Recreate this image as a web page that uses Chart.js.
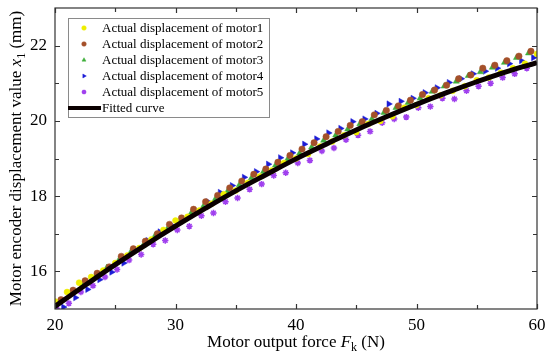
<!DOCTYPE html>
<html>
<head>
<meta charset="utf-8">
<script src="https://cdn.jsdelivr.net/npm/chart.js@4.4.0/dist/chart.umd.min.js"></script>
<style>
    html, body { margin: 0; padding: 0; background: #fff; }
    #wrap { width: 550px; height: 357px; }
</style>
</head>
<body>
<div id="wrap"><canvas id="c" width="550" height="357"></canvas></div>
<script>
    // --- data ---
    var xTicks = [20, 30, 40, 50, 60];
    var xMinor = [25, 35, 45, 55];
    var yTicks = [16, 18, 20, 22];
    var yMinor = [17, 19, 21];

    var motor1X = [20, 21, 22, 23, 24, 25, 26, 27, 28, 29, 30, 31, 32, 33, 34, 35, 36, 37, 38, 39, 40,
        41, 42, 43, 44, 45, 46, 47, 48, 49, 50, 51, 52, 53, 54, 55, 56, 57, 58, 59, 60];
    var motor1Y = [15.20, 15.45, 15.70, 15.85, 16.02, 16.22, 16.42, 16.62, 16.85, 17.10, 17.35, 17.45, 17.62, 17.80,
        18.05, 18.15, 18.35, 18.52, 18.68, 18.88, 19.00, 19.12, 19.32, 19.45, 19.62, 19.70, 19.92, 20.00, 20.12,
        20.35, 20.42, 20.60, 20.68, 20.80, 20.92, 21.08, 21.15, 21.28, 21.40, 21.52, 21.78];

    var motor2X = [20.5, 21.5, 22.5, 23.5, 24.5, 25.5, 26.5, 27.5, 28.5, 29.5, 30.5, 31.5, 32.5, 33.5, 34.5, 35.5,
        36.5, 37.5, 38.5, 39.5, 40.5, 41.5, 42.5, 43.5, 44.5, 45.5, 46.5, 47.5, 48.5, 49.5, 50.5, 51.5, 52.5, 53.5,
        54.5, 55.5, 56.5, 57.5, 58.5, 59.5];
    var motor2Y = [15.25, 15.50, 15.75, 15.95, 16.12, 16.40, 16.60, 16.80, 17.00, 17.25, 17.42, 17.65, 17.85, 18.02,
        18.22, 18.40, 18.58, 18.72, 18.90, 19.08, 19.25, 19.42, 19.58, 19.72, 19.88, 19.98, 20.16, 20.28, 20.40,
        20.55, 20.70, 20.82, 20.95, 21.12, 21.22, 21.40, 21.48, 21.60, 21.72, 21.85];

    var motor3X = [20.3, 21.3, 22.3, 23.3, 24.3, 25.3, 26.3, 27.3, 28.3, 29.3, 30.3, 31.3, 32.3, 33.3, 34.3, 35.3,
        36.3, 37.3, 38.3, 39.3, 40.3, 41.3, 42.3, 43.3, 44.3, 45.3, 46.3, 47.3, 48.3, 49.3, 50.3, 51.3, 52.3, 53.3,
        54.3, 55.3, 56.3, 57.3, 58.3, 59.3];
    var motor3Y = [15.18, 15.42, 15.66, 15.85, 16.10, 16.30, 16.52, 16.68, 16.95, 17.12, 17.30, 17.55, 17.72, 17.92,
        18.12, 18.30, 18.48, 18.65, 18.82, 18.98, 19.14, 19.30, 19.48, 19.62, 19.78, 19.92, 20.05, 20.22, 20.35,
        20.48, 20.60, 20.78, 20.92, 21.05, 21.20, 21.30, 21.42, 21.55, 21.68, 21.80];

    var motor4X = [20.7, 21.7, 22.7, 23.7, 24.7, 25.7, 26.7, 27.7, 28.7, 29.7, 30.7, 31.7, 32.7, 33.7, 34.7, 35.7,
        36.7, 37.7, 38.7, 39.7, 40.7, 41.7, 42.7, 43.7, 44.7, 45.7, 46.7, 47.7, 48.7, 49.7, 50.7, 51.7, 52.7, 53.7,
        54.7, 55.7, 56.7, 57.7, 58.7, 59.7];
    var motor4Y = [15.05, 15.30, 15.52, 15.78, 15.98, 16.22, 16.55, 16.82, 17.05, 17.22, 17.40, 17.58, 17.85, 18.10,
        18.28, 18.50, 18.65, 18.85, 19.02, 19.15, 19.38, 19.52, 19.68, 19.80, 19.98, 20.05, 20.20, 20.45, 20.52,
        20.60, 20.75, 20.88, 21.02, 21.12, 21.25, 21.32, 21.40, 21.52, 21.60, 21.68];

    var motor5X = [20.15, 21.15, 22.15, 23.15, 24.15, 25.15, 26.15, 27.15, 28.15, 29.15, 30.15, 31.15, 32.15, 33.15,
        34.15, 35.15, 36.15, 37.15, 38.15, 39.15, 40.15, 41.15, 42.15, 43.15, 44.15, 45.15, 46.15, 47.15, 48.15,
        49.15, 50.15, 51.15, 52.15, 53.15, 54.15, 55.15, 56.15, 57.15, 58.15, 59.15];
    var motor5Y = [15.00, 15.15, 15.45, 15.62, 15.85, 16.05, 16.30, 16.45, 16.72, 16.82, 17.10, 17.20, 17.48, 17.55,
        17.85, 17.95, 18.18, 18.32, 18.55, 18.62, 18.88, 18.95, 19.20, 19.28, 19.50, 19.62, 19.72, 19.95, 20.05,
        20.10, 20.35, 20.38, 20.60, 20.58, 20.80, 20.92, 21.00, 21.15, 21.25, 21.40];

    var fitX = [20, 22.5, 25, 27.5, 30, 32.5, 35, 37.5, 40, 42.5, 45, 47.5, 50, 52.5, 55, 57.5, 60];
    var fitY = [15.07, 15.63, 16.18, 16.70, 17.20, 17.68, 18.14, 18.57, 18.99, 19.38, 19.76, 20.11, 20.44, 20.75,
        21.04, 21.31, 21.55];

    var seriesNames = ['Actual displacement of motor1', 'Actual displacement of motor2',
        'Actual displacement of motor3', 'Actual displacement of motor4', 'Actual displacement of motor5',
        'Fitted curve'];

    var SERIF = '"Liberation Serif", "Times New Roman", serif';

    function pts(xs, ys) {
        return xs.map(function (x, i) { return {x: x, y: ys[i]}; });
    }

    function scatterSet(name, xs, ys, color, style, radius, rotation) {
        return {
            type: 'scatter',
            label: name,
            data: pts(xs, ys),
            backgroundColor: color,
            borderColor: color,
            borderWidth: style === 'star' ? 1.5 : 0.5,
            pointStyle: style,
            pointRadius: radius,
            rotation: rotation || 0,
            order: 1
        };
    }

    // draw text made of pieces (italic letter, subscript) centred on x
    function drawPieces(ctx, pieces, cx, y) {
        var total = 0;
        pieces.forEach(function (p) {
            ctx.font = p.font;
            p.w = ctx.measureText(p.t).width;
            total += p.w;
        });
        var x = cx - total / 2;
        ctx.textAlign = 'left';
        ctx.textBaseline = 'alphabetic';
        pieces.forEach(function (p) {
            ctx.font = p.font;
            ctx.fillText(p.t, x, y + (p.dy || 0));
            x += p.w;
        });
    }

    var framePlugin = {
        id: 'frame',
        afterDatasetsDraw: function (chart) {
            var ctx = chart.ctx;
            var a = chart.chartArea;
            var sx = chart.scales.x, sy = chart.scales.y;
            ctx.save();
            ctx.strokeStyle = '#333';
            ctx.lineWidth = 1.2;
            ctx.strokeRect(a.left, a.top, a.right - a.left, a.bottom - a.top);

            // inward tick marks on all four sides
            ctx.beginPath();
            xTicks.concat(xMinor).forEach(function (v) {
                var len = xTicks.indexOf(v) >= 0 ? 5 : 4;
                var px = Math.round(sx.getPixelForValue(v)) + 0.5;
                ctx.moveTo(px, a.bottom); ctx.lineTo(px, a.bottom - len);
                ctx.moveTo(px, a.top); ctx.lineTo(px, a.top + len);
            });
            yTicks.concat(yMinor).forEach(function (v) {
                var len = yTicks.indexOf(v) >= 0 ? 5 : 4;
                var py = Math.round(sy.getPixelForValue(v)) + 0.5;
                ctx.moveTo(a.left, py); ctx.lineTo(a.left + len, py);
                ctx.moveTo(a.right, py); ctx.lineTo(a.right - len, py);
            });
            ctx.stroke();
            ctx.restore();
        },
        afterDraw: function (chart) {
            var ctx = chart.ctx;
            var a = chart.chartArea;
            ctx.save();
            ctx.fillStyle = '#000';

            // x axis title
            drawPieces(ctx, [
                {t: 'Motor output force ', font: '17px ' + SERIF},
                {t: 'F', font: 'italic 17px ' + SERIF},
                {t: 'k', font: '12px ' + SERIF, dy: 4},
                {t: ' (N)', font: '17px ' + SERIF}
            ], (a.left + a.right) / 2, 347);

            // y axis title
            ctx.save();
            ctx.translate(21, (a.top + a.bottom) / 2);
            ctx.rotate(-Math.PI / 2);
            drawPieces(ctx, [
                {t: 'Motor encoder displacement value ', font: '17px ' + SERIF},
                {t: 'x', font: 'italic 17px ' + SERIF},
                {t: '1', font: '12px ' + SERIF, dy: 4},
                {t: ' (mm)', font: '17px ' + SERIF}
            ], 0, 0);
            ctx.restore();

            // legend box inside the plot
            var bx = a.left + 13, by = a.top + 10, bw = 201, bh = 99;
            ctx.fillStyle = '#fff';
            ctx.fillRect(bx, by, bw, bh);
            ctx.strokeStyle = '#8a8a8a';
            ctx.lineWidth = 1;
            ctx.strokeRect(bx + 0.5, by + 0.5, bw, bh);

            ctx.font = '13px ' + SERIF;
            ctx.textAlign = 'left';
            ctx.textBaseline = 'middle';
            chart.data.datasets.forEach(function (ds, i) {
                var ry = by + 10 + i * 16;
                if (ds.type === 'line') {
                    ctx.strokeStyle = ds.borderColor;
                    ctx.lineWidth = 4;
                    ctx.beginPath();
                    ctx.moveTo(bx, ry);
                    ctx.lineTo(bx + 33, ry);
                    ctx.stroke();
                } else {
                    ctx.fillStyle = ds.backgroundColor;
                    ctx.strokeStyle = ds.borderColor;
                    ctx.lineWidth = ds.borderWidth;
                    Chart.helpers.drawPoint(ctx, {
                        pointStyle: ds.pointStyle,
                        radius: 2.3,
                        rotation: ds.rotation,
                        borderWidth: ds.borderWidth
                    }, bx + 16, ry);
                }
                ctx.fillStyle = '#000';
                ctx.fillText(ds.label, bx + 34, ry + 1);
            });
            ctx.restore();
        }
    };

    var datasets = [
        scatterSet(seriesNames[0], motor1X, motor1Y, '#eeee00', 'circle', 3),
        scatterSet(seriesNames[1], motor2X, motor2Y, '#a4502a', 'circle', 3.2),
        scatterSet(seriesNames[2], motor3X, motor3Y, '#3fae3a', 'triangle', 3.6),
        scatterSet(seriesNames[3], motor4X, motor4Y, '#1c1cd6', 'triangle', 3.6, 90),
        scatterSet(seriesNames[4], motor5X, motor5Y, '#a040ee', 'star', 3.2),
        {
            type: 'line',
            label: seriesNames[5],
            data: pts(fitX, fitY),
            borderColor: '#0a0000',
            borderWidth: 5,
            pointRadius: 0,
            tension: 0.4,
            fill: false,
            order: 0
        }
    ];

    new Chart(document.getElementById('c').getContext('2d'), {
        type: 'scatter',
        data: {datasets: datasets},
        options: {
            responsive: false,
            animation: false,
            devicePixelRatio: 1,
            layout: {padding: {left: 0, right: 13, top: 8, bottom: 0}},
            plugins: {
                legend: {display: false},
                tooltip: {enabled: false}
            },
            scales: {
                x: {
                    type: 'linear',
                    min: 20,
                    max: 60,
                    afterBuildTicks: function (s) { s.ticks = xTicks.map(function (v) { return {value: v}; }); },
                    afterFit: function (s) { s.height = 48; s.paddingLeft = 0; s.paddingRight = 0; },
                    grid: {display: false, drawTicks: false},
                    border: {display: false},
                    ticks: {color: '#000', padding: 6, maxRotation: 0, autoSkip: false,
                        font: {family: SERIF, size: 17}}
                },
                y: {
                    type: 'linear',
                    min: 15,
                    max: 23,
                    afterBuildTicks: function (s) { s.ticks = yTicks.map(function (v) { return {value: v}; }); },
                    afterFit: function (s) { s.width = 55; s.paddingTop = 0; s.paddingBottom = 0; },
                    grid: {display: false, drawTicks: false},
                    border: {display: false},
                    ticks: {color: '#000', padding: 8, autoSkip: false,
                        font: {family: SERIF, size: 17}}
                }
            }
        },
        plugins: [framePlugin]
    });
</script>
</body>
</html>
